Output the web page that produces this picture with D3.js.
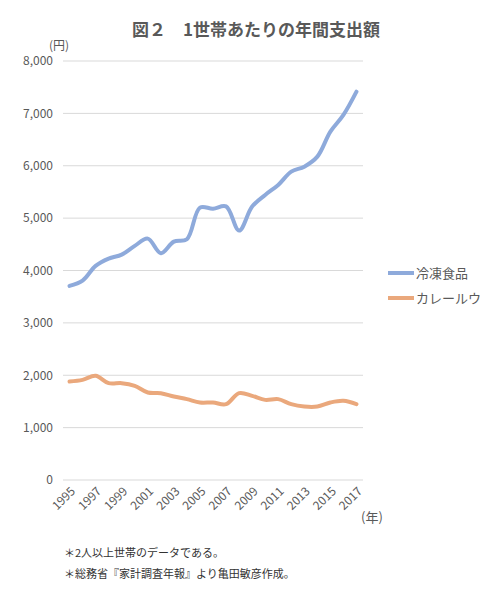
<!DOCTYPE html>
<html>
<head>
<meta charset="utf-8">
<script src="https://cdn.jsdelivr.net/npm/d3@7"></script>
<style>
  body { margin: 0; background: #fff; }
  text { font-family: "Noto Sans CJK JP", "Noto Sans", sans-serif; }
</style>
</head>
<body>
<svg id="chart" width="500" height="604"></svg>
<script>

// years on the x axis
var years = [1995, 1996, 1997, 1998, 1999, 2000, 2001, 2002, 2003, 2004, 2005, 2006,
             2007, 2008, 2009, 2010, 2011, 2012, 2013, 2014, 2015, 2016, 2017];

// 冷凍食品 (yen per household per year)
var frozen = [3706, 3807, 4088, 4227, 4303, 4470, 4609, 4330, 4552, 4597, 5200, 5180,
              5225, 4762, 5220, 5443, 5634, 5888, 5983, 6174, 6651, 6970, 7414];

// カレールウ
var curry = [1880, 1912, 1989, 1849, 1849, 1798, 1670, 1658, 1594, 1544, 1479, 1479,
             1448, 1658, 1607, 1530, 1544, 1448, 1403, 1403, 1479, 1511, 1448];

var seriesNames = ["冷凍食品", "カレールウ"];
var seriesColors = ["#8eaadb", "#eaa87c"];
var yTicks = [0, 1000, 2000, 3000, 4000, 5000, 6000, 7000, 8000];
var xLabelYears = [1995, 1997, 1999, 2001, 2003, 2005, 2007, 2009, 2011, 2013, 2015, 2017];

var svg = d3.select("#chart");

// plot area
var m_left = 63, m_right = 363, m_top = 61, m_bottom = 480;

var x = d3.scalePoint().domain(years).range([m_left, m_right]).padding(0.5);
var y = d3.scaleLinear().domain([0, 8000]).range([m_bottom, m_top]);

// title
svg.append("text")
   .attr("x", 256).attr("y", 36)
   .attr("text-anchor", "middle")
   .attr("font-size", 17).attr("font-weight", "bold")
   .attr("fill", "#595959")
   .text("図２　1世帯あたりの年間支出額");

// gridlines
svg.append("g")
   .selectAll("line")
   .data(yTicks)
   .enter().append("line")
   .attr("x1", m_left).attr("x2", m_right)
   .attr("y1", function(d) { return y(d); })
   .attr("y2", function(d) { return y(d); })
   .attr("stroke", "#d9d9d9").attr("stroke-width", 1);

// y axis labels
var yAxis = d3.axisLeft(y).tickValues(yTicks).tickSize(0).tickPadding(10)
   .tickFormat(d3.format(","));
svg.append("g")
   .attr("class", "axis axis--y")
   .attr("transform", "translate(" + m_left + ",0)")
   .call(yAxis)
   .call(function(g) { g.select(".domain").remove(); })
   .selectAll("text")
   .attr("font-size", 12).attr("fill", "#595959")
   .attr("font-family", "'Liberation Sans', Arial, sans-serif");

svg.append("text")
   .attr("x", 49).attr("y", 50)
   .attr("font-size", 12).attr("fill", "#595959")
   .text("(円)");

// x axis labels
var xAxis = d3.axisBottom(x).tickValues(xLabelYears).tickSize(0).tickPadding(0);
svg.append("g")
   .attr("class", "axis axis--x")
   .attr("transform", "translate(0," + m_bottom + ")")
   .call(xAxis)
   .call(function(g) { g.select(".domain").remove(); })
   .selectAll("text")
   .attr("font-size", 12).attr("fill", "#595959")
   .attr("font-family", "'Liberation Sans', Arial, sans-serif")
   .attr("text-anchor", "end")
   .attr("dy", "0.35em")
   .attr("transform", "translate(3,9) rotate(-45)");

svg.append("text")
   .attr("x", 361).attr("y", 522)
   .attr("font-size", 13).attr("fill", "#595959")
   .text("(年)");

// lines
var line = d3.line()
   .x(function(d, i) { return x(years[i]); })
   .y(function(d) { return y(d); })
   .curve(d3.curveCatmullRom);

[frozen, curry].forEach(function(s, i) {
  svg.append("path")
     .datum(s)
     .attr("fill", "none")
     .attr("stroke", seriesColors[i])
     .attr("stroke-width", 4)
     .attr("stroke-linecap", "round")
     .attr("stroke-linejoin", "round")
     .attr("d", line);
});

// legend
var legend = svg.append("g");
seriesNames.forEach(function(name, i) {
  var ly = 273 + i * 25;
  legend.append("line")
     .attr("x1", 388).attr("x2", 414)
     .attr("y1", ly).attr("y2", ly)
     .attr("stroke", seriesColors[i]).attr("stroke-width", 4);
  legend.append("text")
     .attr("x", 416).attr("y", ly + 5)
     .attr("font-size", 13).attr("fill", "#595959")
     .text(name);
});

// notes
svg.append("text")
   .attr("x", 64).attr("y", 557)
   .attr("font-size", 11).attr("fill", "#333")
   .text("＊2人以上世帯のデータである。");
svg.append("text")
   .attr("x", 64).attr("y", 578)
   .attr("font-size", 11).attr("fill", "#333")
   .text("＊総務省『家計調査年報』より亀田敏彦作成。");

</script>
</body>
</html>
